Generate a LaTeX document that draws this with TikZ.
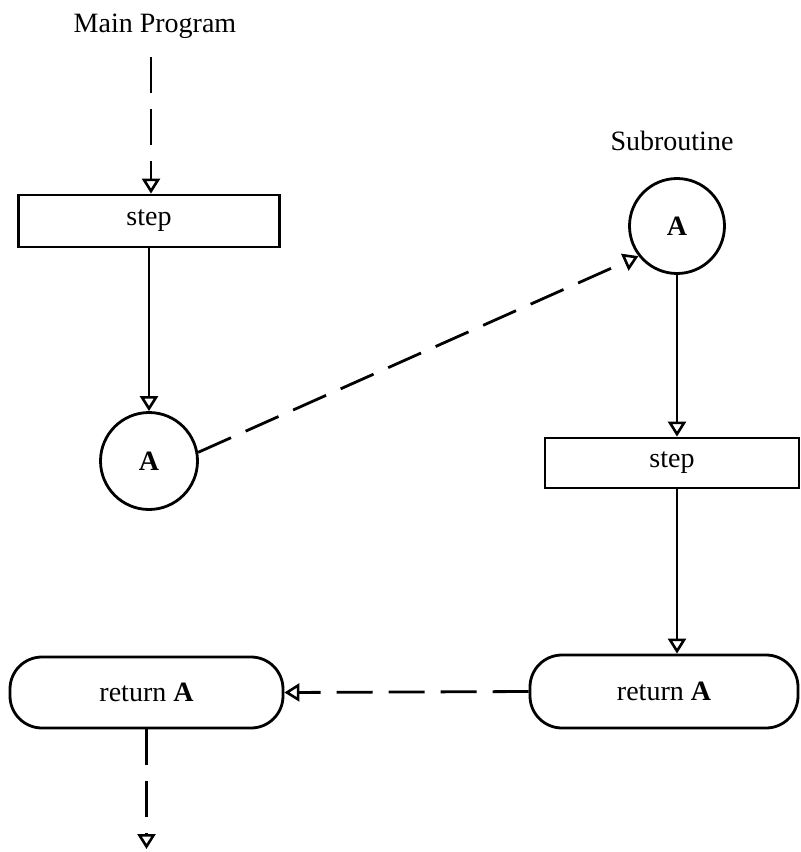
\documentclass[tikz,border=0pt]{standalone}
\usepackage{fontspec}
\setmainfont{Liberation Serif}
\usetikzlibrary{arrows.meta}
\begin{document}
\begin{tikzpicture}[x=1pt,y=-1pt,
  every node/.style={font=\fontsize{28}{33}\selectfont},
  ln/.style={line width=2.8pt},
  tip/.style={-{Triangle[open,length=15pt,width=18pt,line width=2.6pt]}},
  dsh/.style={dash pattern=on 36pt off 16pt},
  stepbox/.style={draw,ln,rectangle,inner sep=0pt},
  conn/.style={draw,ln,circle,inner sep=0pt},
  retbox/.style={draw,ln,rectangle,rounded corners=32pt,inner sep=0pt}]
\useasboundingbox (0,0) rectangle (801,852);

\node[anchor=base] (mainlbl) at (155,32) {Main Program};
\node[anchor=base] (sublbl) at (672,150) {Subroutine};

\coordinate (start) at (151,57);
\node[stepbox,minimum width=261pt,minimum height=52pt] (step1) at (149,221) {step};
\node[conn,minimum size=97pt] (circA1) at (149,461) {\textbf{A}};
\node[conn,minimum size=95pt] (circA2) at (677,226) {\textbf{A}};
\node[stepbox,minimum width=254pt,minimum height=50pt] (step2) at (672,463) {step};
\node[retbox,minimum width=268pt,minimum height=73pt] (ret2) at (664,691.5) {return \textbf{A}};
\node[retbox,minimum width=273pt,minimum height=71pt] (ret1) at (146.5,692.5) {return \textbf{A}};
\coordinate (end) at (146.5,849);

\draw[ln,dsh,tip] (start) -- (start |- step1.north);
\draw[ln,tip] (step1.south) -- (circA1.north);
\draw[ln,dsh,tip] (circA1.10) -- (circA2.218);
\draw[ln,tip] (circA2.south) -- (circA2.south |- step2.north);
\draw[ln,tip] (circA2.south |- step2.south) -- (circA2.south |- ret2.north);
\draw[ln,dsh,tip] (ret2.west) -- (ret1.east);
\draw[ln,dsh,tip] (ret1.south) -- (end);
\end{tikzpicture}
\end{document}
